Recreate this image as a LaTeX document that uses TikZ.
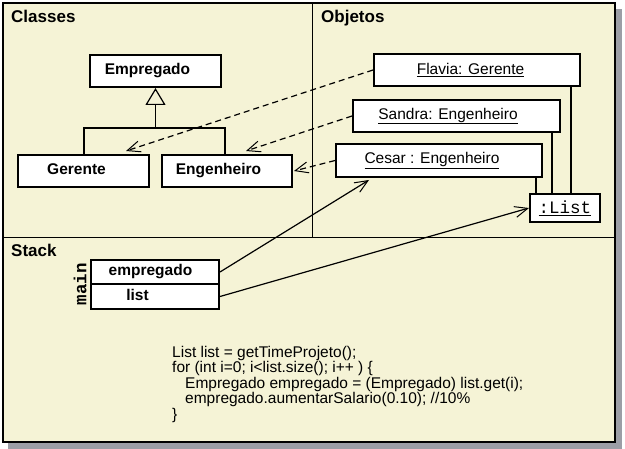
\documentclass[tikz,border=0pt]{standalone}
\usepackage{fontspec}
\setmainfont{Liberation Sans}
\setmonofont{Liberation Mono}
\usetikzlibrary{arrows.meta}
\definecolor{cream}{HTML}{F5F3D6}
\definecolor{shadowgray}{HTML}{9C9EA6}
\begin{document}
\begin{tikzpicture}[x=1pt,y=-1pt,
  title/.style={anchor=base west, inner sep=0pt, font=\fontsize{17}{17}\selectfont\bfseries},
  box/.style={draw, line width=2pt, fill=white, inner sep=0pt, font=\fontsize{15.5}{15.5}\selectfont},
  cls/.style={box, font=\fontsize{15.5}{15.5}\selectfont\bfseries, text height=11.5pt, text depth=4pt},
  obj/.style={box},
  monobox/.style={box, font=\fontsize{17.5}{17.5}\selectfont\ttfamily},
  dep/.style={line width=1.2pt, dash pattern=on 6pt off 4pt, -{Straight Barb[length=13pt,width=11pt,line width=1pt]}},
  ref/.style={line width=1.2pt, -{Straight Barb[length=13pt,width=11pt,line width=1pt]}},
  link/.style={line width=1.5pt},
  code/.style={anchor=north west, inner sep=0pt, align=left, font=\fontsize{15.5}{15.4}\selectfont}]
\useasboundingbox (0,0) rectangle (625,449);
% shadow and frame
\fill[shadowgray] (8,9) rectangle (622,449);
\filldraw[fill=cream, draw=black, line width=1.5pt] (3,3) rectangle (615,442);
\draw[line width=1pt] (3,238) -- (615,238);
\draw[line width=1pt] (312,3) -- (312,238);
% titles
\node[title] (tcl) at (11,23) {Classes};
\node[title] (tob) at (321,23) {Objetos};
\node[title] (tst) at (11,257) {Stack};
% classes
\node[cls, minimum width=131pt, minimum height=32pt] (emp) at (155.5,71) {Empregado\hspace*{16pt}};
\node[cls, minimum width=131pt, minimum height=32pt] (ger) at (83.5,171) {Gerente\hspace*{14pt}};
\node[cls, minimum width=130pt, minimum height=32pt] (eng) at (227,171) {Engenheiro\hspace*{17pt}};
\coordinate (j) at (155.5,128);
\draw[link] ([xshift=67pt]ger.north west) |- (j) -| ([xshift=64pt]eng.north west);
\draw[link, -{Triangle[length=17pt,width=20pt,fill=cream,line width=1.2pt]}] (j) -- (emp.south);
% objects
\node[obj, minimum width=206pt, minimum height=32pt] (fla) at (477,70) {\underline{Flavia: Gerente}\hspace*{13pt}};
\node[obj, minimum width=207pt, minimum height=32pt] (san) at (456.5,116) {\underline{Sandra: Engenheiro}\hspace*{17pt}};
\node[obj, minimum width=206pt, minimum height=33pt] (ces) at (439,160.5) {\underline{Cesar : Engenheiro}\hspace*{14pt}};
\node[monobox, minimum width=70pt, minimum height=28pt] (lst) at (565,208) {\underline{:List}};
\coordinate (f1) at ([xshift=-10pt]fla.south east);
\coordinate (s1) at ([xshift=-9pt]san.south east);
\coordinate (c1) at ([xshift=-7pt]ces.south east);
\draw[link] (f1) -- (f1 |- lst.north);
\draw[link] (s1) -- (s1 |- lst.north);
\draw[link] (c1) -- (c1 |- lst.north);
% dependencies
\draw[dep] (fla.west) -- ([xshift=109pt,yshift=3pt]ger.north west);
\draw[dep] (san.west) -- ([xshift=85pt,yshift=3pt]eng.north west);
\draw[dep] (ces.west) -- ([xshift=1pt]eng.east);
% stack
\node[cls, minimum width=128pt, minimum height=24pt] (ve) at (155,272) {empregado\hspace*{9pt}};
\node[cls, minimum width=128pt, minimum height=25pt] (vl) at (155,296.5) {list\hspace*{35pt}};
\node[rotate=90, inner sep=0pt, font=\fontsize{17.5}{17.5}\selectfont\ttfamily\bfseries] (mn) at (80,284) {main};
\draw[ref] (ve.east) -- ([xshift=34pt,yshift=-2pt]ces.south west);
\draw[ref] (vl.east) -- (lst.west);
% code
\node[code] (cd) at (172,346) {List list = getTimeProjeto();\\
for (int i=0; i<list.size(); i++ ) \{\\
\hspace*{13pt}Empregado empregado = (Empregado) list.get(i);\\
\hspace*{13pt}empregado.aumentarSalario(0.10); //10\%\\
\}};
\end{tikzpicture}
\end{document}
